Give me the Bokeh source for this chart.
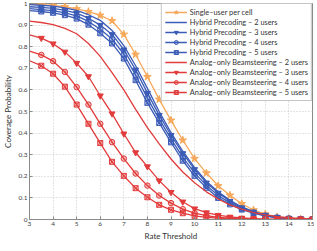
from bokeh.plotting import figure
from bokeh.models import FixedTicker, Legend, LegendItem
from bokeh.embed import file_html
from bokeh.resources import INLINE

rate = [3, 3.5, 4, 4.5, 5, 5.5, 6, 6.5, 7, 7.5, 8, 8.5, 9, 9.5, 10,
        10.5, 11, 11.5, 12, 12.5, 13, 13.5, 14, 14.5, 15]

single_user = [0.997, 0.995, 0.991, 0.985, 0.975, 0.962, 0.945, 0.920, 0.857, 0.764,
               0.661, 0.556, 0.459, 0.367, 0.282, 0.215, 0.156, 0.112, 0.073, 0.044,
               0.025, 0.012, 0.005, 0.002, 0.001]
hybrid_2 = [0.995, 0.992, 0.988, 0.980, 0.968, 0.948, 0.922, 0.875, 0.805, 0.712,
            0.607, 0.500, 0.402, 0.316, 0.240, 0.177, 0.128, 0.089, 0.058, 0.037,
            0.021, 0.011, 0.005, 0.002, 0.001]
hybrid_3 = [0.985, 0.982, 0.977, 0.968, 0.955, 0.932, 0.900, 0.857, 0.786, 0.693,
            0.585, 0.483, 0.390, 0.306, 0.232, 0.170, 0.123, 0.085, 0.055, 0.035,
            0.020, 0.010, 0.005, 0.002, 0.001]
hybrid_4 = [0.976, 0.972, 0.967, 0.957, 0.943, 0.917, 0.881, 0.836, 0.765, 0.668,
            0.562, 0.465, 0.373, 0.288, 0.216, 0.158, 0.111, 0.077, 0.050, 0.032,
            0.018, 0.009, 0.004, 0.002, 0.001]
hybrid_5 = [0.967, 0.963, 0.957, 0.946, 0.930, 0.902, 0.862, 0.815, 0.745, 0.645,
            0.540, 0.447, 0.357, 0.272, 0.202, 0.147, 0.100, 0.070, 0.046, 0.030,
            0.016, 0.008, 0.004, 0.002, 0.001]
analog_2 = [0.918, 0.912, 0.902, 0.885, 0.860, 0.815, 0.755, 0.680, 0.600, 0.510,
            0.425, 0.350, 0.280, 0.220, 0.170, 0.128, 0.095, 0.068, 0.048, 0.032,
            0.021, 0.013, 0.008, 0.004, 0.002]
analog_3 = [0.855, 0.840, 0.814, 0.776, 0.724, 0.662, 0.573, 0.490, 0.397, 0.310,
            0.245, 0.180, 0.126, 0.082, 0.050, 0.032, 0.020, 0.012, 0.007, 0.004,
            0.002, 0.001, 0.0, 0.0, 0.0]
analog_4 = [0.780, 0.762, 0.733, 0.683, 0.613, 0.532, 0.443, 0.358, 0.282, 0.213,
            0.157, 0.111, 0.076, 0.048, 0.030, 0.018, 0.010, 0.006, 0.003, 0.002,
            0.001, 0.0, 0.0, 0.0, 0.0]
analog_5 = [0.735, 0.712, 0.675, 0.615, 0.532, 0.443, 0.354, 0.267, 0.202, 0.145,
            0.103, 0.068, 0.045, 0.029, 0.017, 0.010, 0.006, 0.003, 0.002, 0.001,
            0.0, 0.0, 0.0, 0.0, 0.0]

labels = ["Single\u2013user per cell",
          "Hybrid Precoding \u2013 2 users",
          "Hybrid Precoding \u2013 3 users",
          "Hybrid Precoding \u2013 4 users",
          "Hybrid Precoding \u2013 5 users",
          "Analog\u2013only Beamsteering \u2013 2 users",
          "Analog\u2013only Beamsteering \u2013 3 users",
          "Analog\u2013only Beamsteering \u2013 4 users",
          "Analog\u2013only Beamsteering \u2013 5 users"]

x_ticks = [3, 4, 5, 6, 7, 8, 9, 10, 11, 12, 13, 14, 15]
y_ticks = [0, 0.1, 0.2, 0.3, 0.4, 0.5, 0.6, 0.7, 0.8, 0.9, 1]

ORANGE = "#F7A85A"
BLUE = "#3A5BB6"
RED = "#E23B3B"
FONT = "Lato"

p = figure(frame_width=283, frame_height=216, output_backend="svg",
           toolbar_location=None, x_range=(3, 15), y_range=(0, 1),
           min_border_top=3, min_border_right=2, min_border_left=2,
           min_border_bottom=1)
p.background_fill_color = "white"
p.border_fill_color = "white"
p.outline_line_color = "#8a8a8a"

for ax in (p.xaxis[0], p.yaxis[0]):
    ax.axis_line_color = "#8a8a8a"
    ax.major_tick_line_color = "#8a8a8a"
    ax.minor_tick_line_color = None
    ax.major_tick_in = 3
    ax.major_tick_out = 0
    ax.major_label_text_font = FONT
    ax.major_label_text_font_size = "6.5px"
    ax.major_label_text_color = "#444444"
    ax.axis_label_text_font = FONT
    ax.axis_label_text_font_size = "8px"
    ax.axis_label_text_font_style = "normal"
    ax.axis_label_text_color = "#333333"
    ax.major_label_standoff = 2
    ax.axis_label_standoff = 2

p.xaxis.ticker = FixedTicker(ticks=x_ticks)
p.yaxis.ticker = FixedTicker(ticks=y_ticks)
p.yaxis.major_label_overrides = {0: "0", 1: "1"}
p.xaxis.axis_label = "Rate Threshold"
p.yaxis.axis_label = "Coverage Probability"

p.grid.grid_line_color = "#c8c8c8"
p.grid.grid_line_dash = "1 2"
p.grid.grid_line_width = 1

series = [
    (single_user, ORANGE, "star", 8, 1.0),
    (hybrid_2, BLUE, None, 0, 1.0),
    (hybrid_3, BLUE, "inverted_triangle", 6, 1.0),
    (hybrid_4, BLUE, "circle_dot", 5.5, 0.35),
    (hybrid_5, BLUE, "square_x", 5, 0.35),
    (analog_2, RED, None, 0, 1.0),
    (analog_3, RED, "inverted_triangle", 6, 1.0),
    (analog_4, RED, "circle_dot", 5.5, 0.35),
    (analog_5, RED, "square_x", 5, 0.35),
]

items = []
for (vals, color, marker, size, falpha), lab in zip(series, labels):
    rs = [p.line(rate, vals, line_color=color, line_width=1.3)]
    if marker is not None:
        rs.append(p.scatter(rate[1:], vals[1:], marker=marker, size=size,
                            line_color=color, fill_color=color,
                            fill_alpha=falpha, line_width=1))
    items.append(LegendItem(label=lab, renderers=rs))

legend = Legend(items=items, location="top_right")
legend.margin = 0
legend.padding = 3
legend.spacing = 0
legend.glyph_width = 22
legend.glyph_height = 10
legend.label_height = 10
legend.label_standoff = 3
legend.label_text_font = FONT
legend.label_text_font_size = "7.4px"
legend.label_text_color = "#333333"
legend.border_line_color = "#8a8a8a"
legend.border_line_width = 1
legend.background_fill_color = "white"
legend.background_fill_alpha = 1.0
p.add_layout(legend)

open("out.html", "w").write(file_html(p, INLINE))
